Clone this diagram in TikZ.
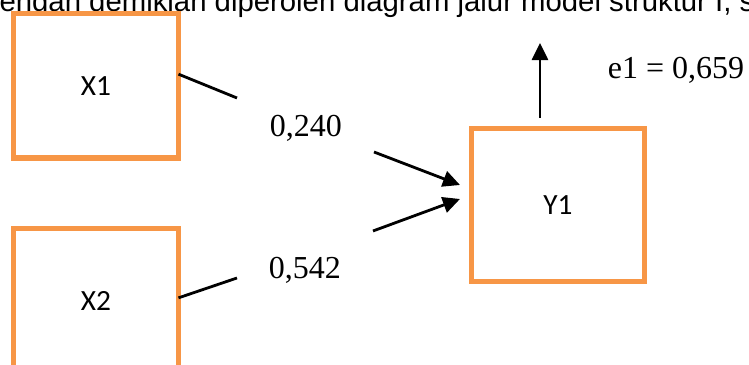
\documentclass[tikz,border=0pt]{standalone}
\usepackage{fontspec}
\setmainfont{Liberation Serif}
\newfontfamily\bodysans{Liberation Sans}
\newfontfamily\boxfont{Carlito}
\usetikzlibrary{arrows.meta,calc}
\definecolor{boxorange}{HTML}{F79646}
\begin{document}
\begin{tikzpicture}[x=0.375pt,y=-0.375pt,
  varbox/.style={draw=boxorange,line width=1.9pt,fill=white,outer sep=0pt,
    minimum width=61.875pt,minimum height=54.2pt,font=\boxfont\fontsize{11}{13}\selectfont},
  wide/.style={minimum width=64.9pt,minimum height=57.4pt},
  path/.style={line width=1.05pt,black},
  tip/.style={-{Triangle[width=6pt,length=6.4pt]}},
  coef/.style={font=\fontsize{12}{14}\selectfont,inner sep=0pt,anchor=base}]
\useasboundingbox (0,0) rectangle (749,365);
\clip (0,0) rectangle (749,365);

% running text above the diagram
\node[anchor=base west,inner sep=0pt,font=\bodysans\fontsize{11}{13}\selectfont]
  (caption) at (-1,12) {engan demikian diperoleh diagram jalur model struktur I, s};

% variables
\node[varbox] (x1) at (96,85.75) {X1};
\node[varbox] (x2) at (96,300.75) {X2};
\node[varbox,wide] (y1) at (558,205) {Y1};

% ends of the path segments around the coefficients
\coordinate (s1) at ($(x1.north east)!0.42!(x1.south east)$);
\coordinate (g1a) at (237,98);
\coordinate (g1b) at (374,152);
\coordinate (e1) at (460,185);
\coordinate (s2) at ($(x2.north east)!0.48!(x2.south east)$);
\coordinate (g2a) at (237,278);
\coordinate (g2b) at (373,231);
\coordinate (e2) at (460,199);
\coordinate (r0) at (540,118);
\coordinate (r1) at (540,43);

% paths
\draw[path] (s1) -- (g1a);
\draw[path,tip] (g1b) -- (e1);
\draw[path] (s2) -- (g2a);
\draw[path,tip] (g2b) -- (e2);
\draw[path,tip] (r0) -- (r1);

% coefficients
\node[coef] (c1) at (306,137) {0,240};
\node[coef] (c2) at (305,279) {0,542};
\node[coef] (c3) at (676,79) {e1 = 0,659};
\end{tikzpicture}
\end{document}
